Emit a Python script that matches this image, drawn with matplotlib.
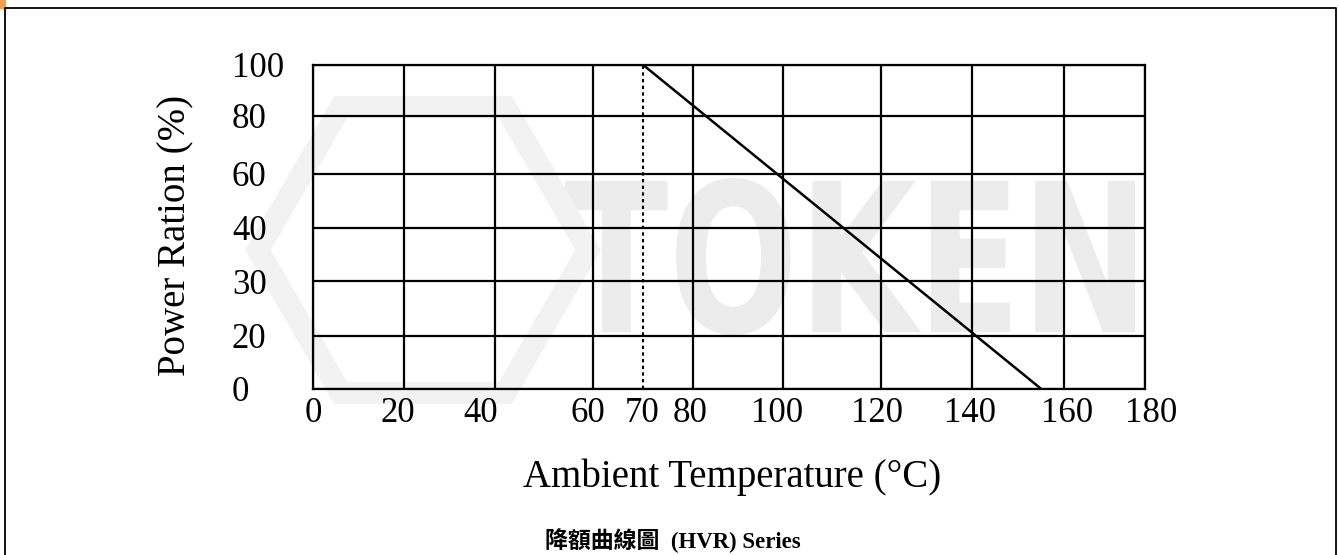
import numpy as np
import matplotlib
matplotlib.use("Agg")
import matplotlib.pyplot as plt
from matplotlib.transforms import ScaledTranslation, Affine2D
from matplotlib.textpath import TextPath
from matplotlib.font_manager import FontProperties
from matplotlib.patches import PathPatch, Rectangle, RegularPolygon
from matplotlib.lines import Line2D

# ---------------- data ----------------
x_ticks = [0, 20, 40, 60, 70, 80, 100, 120, 140, 160, 180]
x_grid = [0, 20, 40, 60, 80, 100, 120, 140, 160, 180]
y_ticks = [0, 20, 30, 40, 60, 80, 100]
derate_temp = [70, 155]
derate_power = [100, 0]
knee_temp = 70
x_label = "Ambient Temperature (°C)"
y_label = "Power Ration (%)"
caption = "降額曲線圖  (HVR) Series"
watermark = "TOKEN"

# ---------------- layout (pixels) ----------------
W, H = 1339, 555
X_GRID_PX = [312.5, 404, 495, 592.7, 692.5, 783.3, 880.8, 972.3, 1063.5, 1145]
Y_GRID_PX = [388.5, 335.5, 281, 227.5, 174, 115.5, 64.5]   # measured from top
X_LABEL_DX = [0.5, -6, -14, -5, 0, -2, -6.5, -4, -2, 4, 6]  # px nudges of x tick labels

SERIF = "Liberation Serif"
LW = 1.6

fig = plt.figure(figsize=(W / 100, H / 100), dpi=100)
fig.patch.set_facecolor("white")

left = X_GRID_PX[0] / W
right = X_GRID_PX[-1] / W
bottom = 1 - Y_GRID_PX[0] / H
top = 1 - Y_GRID_PX[-1] / H
ax = fig.add_axes([left, bottom, right - left, top - bottom])
ax.set_facecolor("none")

# piecewise scales so that the printed grid spacing is reproduced
xpx = np.array(X_GRID_PX)
ypx = Y_GRID_PX[0] - np.array(Y_GRID_PX)


def fx(t):
    return np.interp(t, x_grid, xpx)


def ix(p):
    return np.interp(p, xpx, x_grid)


def fy(v):
    return np.interp(v, y_ticks, ypx)


def iy(p):
    return np.interp(p, ypx, y_ticks)


ax.set_xscale("function", functions=(fx, ix))
ax.set_yscale("function", functions=(fy, iy))
ax.set_xlim(x_grid[0], x_grid[-1])
ax.set_ylim(y_ticks[0], y_ticks[-1])

# grid
for xv in x_grid:
    ax.axvline(xv, color="black", lw=LW, zorder=1)
for yv in y_ticks:
    ax.axhline(yv, color="black", lw=LW, zorder=1)
for s in ax.spines.values():
    s.set_color("black")
    s.set_linewidth(LW)

# derating curve and knee marker
ax.plot([knee_temp, knee_temp], [y_ticks[0], y_ticks[-1]], color="black",
        lw=1.5, ls=(0, (1.6, 1.6)), zorder=2)
ax.plot(derate_temp, derate_power, color="black", lw=1.8, zorder=3,
        solid_capstyle="butt")

# ticks
ax.set_xticks(x_ticks, labels=[str(v) for v in x_ticks])
ax.set_yticks(y_ticks, labels=[str(v) for v in y_ticks])
ax.tick_params(axis="both", length=0, labelsize=25)
ax.tick_params(axis="x", pad=6)
ax.tick_params(axis="y", pad=58)
for lab in ax.get_yticklabels():
    lab.set_fontfamily(SERIF)
    lab.set_horizontalalignment("left")
for lab, dx in zip(ax.get_xticklabels(), X_LABEL_DX):
    lab.set_fontfamily(SERIF)
    lab.set_transform(lab.get_transform() +
                      ScaledTranslation(dx / 100, 0, fig.dpi_scale_trans))

# axis titles
fig.text(732.5 / W, 1 - 477 / H, x_label, ha="center", va="center",
         fontsize=28, family=SERIF)
fig.text(175.5 / W, 1 - 235 / H, y_label, ha="center", va="center",
         rotation=90, fontsize=28, family=SERIF)

# caption
fig.text(672.5 / W, 1 - 541 / H, caption, ha="center", va="center",
         fontsize=16.5, fontweight="bold", family=[SERIF, "Noto Sans CJK TC"])

# faint watermark behind the grid
tp = TextPath((0, 0), watermark, size=1,
              prop=FontProperties(family="DejaVu Sans", weight="bold"))
ext = tp.get_extents()
bx0, bx1, by_top, by_bot = 565, 1135, 178, 335
sx = (bx1 - bx0) / ext.width
sy = (by_bot - by_top) / ext.height
aff = (Affine2D().translate(-ext.x0, -ext.y0).scale(sx, sy)
       .translate(bx0, H - by_bot))
wm = PathPatch(tp, transform=aff, facecolor="#ececec", edgecolor="none",
               zorder=-2)
fig.add_artist(wm)
hexa = RegularPolygon((423, H - 250), numVertices=6, radius=165,
                      orientation=np.pi / 2, facecolor="none",
                      edgecolor="#f2f2f2", lw=16, transform=Affine2D(),
                      zorder=-2)
fig.add_artist(hexa)

# page frame and orange corner
fig.add_artist(Line2D([5.3 / W, 5.3 / W, 1336.3 / W, 1336.3 / W],
                      [0, 1 - 8.3 / H, 1 - 8.3 / H, 0],
                      transform=fig.transFigure, color="black", lw=1.3))
fig.add_artist(Rectangle((0, 1 - 9 / H), 6 / W, 9 / H,
                         transform=fig.transFigure, color="#F59E4C", lw=0))

fig.savefig("out.png", dpi=100)
